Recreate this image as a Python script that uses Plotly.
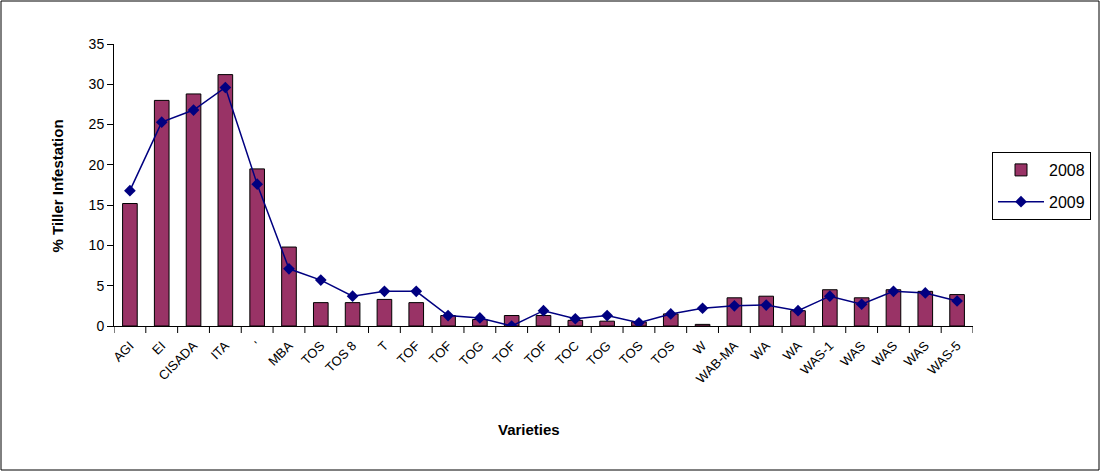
import plotly.graph_objects as go

# Tiller infestation (%) per rice variety, two seasons
varieties = ["AGI", "EI", "CISADA", "ITA", "'", "MBA", "TOS", "TOS 8", "T",
             "TOF", "TOF", "TOG", "TOF", "TOF", "TOC", "TOG", "TOS", "TOS",
             "W", "WAB-MA", "WA", "WA", "WAS-1", "WAS", "WAS", "WAS", "WAS-5"]
infest_2008 = [15.2, 28.0, 28.8, 31.2, 19.5, 9.8, 2.9, 2.9, 3.3,
               2.9, 1.3, 0.8, 1.3, 1.3, 0.7, 0.6, 0.5, 1.5,
               0.2, 3.5, 3.7, 1.9, 4.5, 3.5, 4.5, 4.3, 3.9]
infest_2009 = [16.8, 25.3, 26.8, 29.6, 17.6, 7.1, 5.7, 3.7, 4.3,
               4.3, 1.3, 1.0, 0.0, 1.9, 0.9, 1.3, 0.4, 1.5,
               2.2, 2.5, 2.6, 1.9, 3.7, 2.7, 4.3, 4.1, 3.1]
y_ticks = [0, 5, 10, 15, 20, 25, 30, 35]

idx = list(range(len(varieties)))
FONT = "Liberation Sans, Arial, sans-serif"

fig = go.Figure()
fig.add_trace(go.Bar(
    x=idx, y=infest_2008, name="2008", width=0.46,
    marker=dict(color="#993366", line=dict(color="black", width=1)),
    legendgroup="a",
))
fig.add_trace(go.Scatter(
    x=idx, y=infest_2009, name="2009", mode="lines+markers",
    line=dict(color="#000080", width=1.5),
    marker=dict(symbol="diamond", size=9, color="#000080"),
    legendgroup="b",
))

# plot area in pixels: x 114..973, y 44..326
L, R, T, B = 114, 973, 44, 326
W, H = R - L, B - T


def px(xp):
    return (xp - L) / W


def py(yp):
    return (B - yp) / H


fig.update_layout(
    width=1101, height=472,
    margin=dict(l=L, r=1101 - R, t=T, b=472 - B, autoexpand=False),
    paper_bgcolor="white", plot_bgcolor="white",
    font=dict(family=FONT, size=13, color="black"),
    showlegend=True,
    legend=dict(
        x=px(992), y=py(152), xanchor="left", yanchor="top",
        bordercolor="black", borderwidth=1, bgcolor="white",
        font=dict(size=16), traceorder="grouped", tracegroupgap=8,
        itemwidth=46,
    ),
    xaxis=dict(
        range=[-0.5, len(varieties) - 0.5],
        tickmode="array", tickvals=idx, ticktext=varieties,
        tickangle=-45, tickfont=dict(size=13), ticklabelstandoff=6,
        showline=True, linecolor="black", linewidth=1,
        showgrid=False, zeroline=False, ticks="",
    ),
    yaxis=dict(
        range=[0, 35], tickmode="array", tickvals=y_ticks,
        tickfont=dict(size=14),
        showline=True, linecolor="black", linewidth=1,
        ticks="outside", ticklen=6, tickcolor="black",
        showgrid=False, zeroline=False,
    ),
    shapes=[
        # outer chart frame
        dict(type="rect", xref="paper", yref="paper",
             x0=px(1), x1=px(1099), y0=py(470), y1=py(1),
             line=dict(color="black", width=1), layer="below"),
    ] + [
        # category separator ticks below the x axis
        dict(type="line", xref="x", yref="paper",
             x0=i - 0.5, x1=i - 0.5, y0=0, y1=py(333),
             line=dict(color="black", width=1))
        for i in range(len(varieties) + 1)
    ],
    annotations=[
        dict(text="<b>% Tiller Infestation</b>", xref="paper", yref="paper",
             x=px(46), y=py(186), textangle=-90, showarrow=False,
             font=dict(size=15)),
        dict(text="<b>Varieties</b>", xref="paper", yref="paper",
             x=px(529), y=py(440), showarrow=False,
             font=dict(size=15)),
    ],
)

fig.write_html("out.html")
